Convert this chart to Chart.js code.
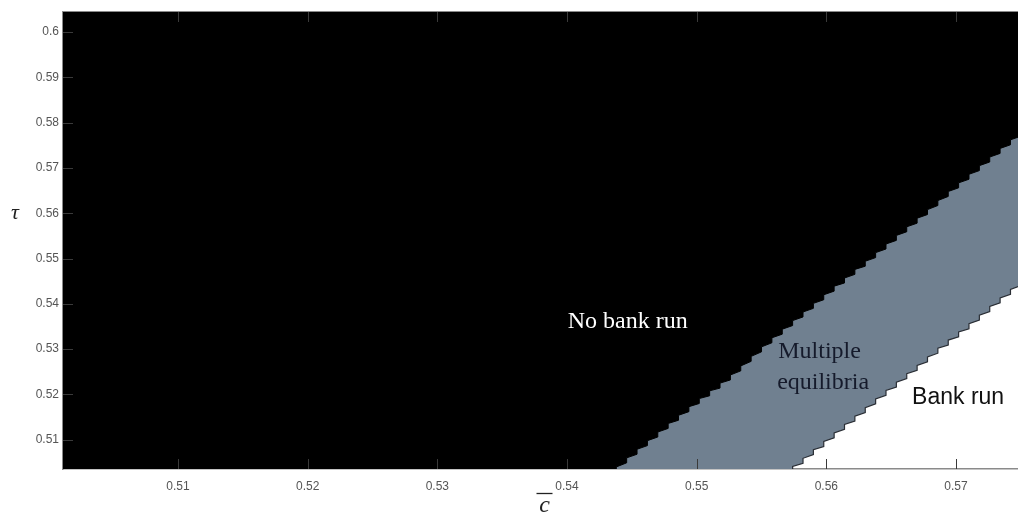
<!DOCTYPE html>
<html>
<head>
<meta charset="utf-8">
<script src="https://cdn.jsdelivr.net/npm/chart.js@4/dist/chart.umd.min.js"></script>
<style>
  html, body { margin: 0; padding: 0; background: #ffffff; }
  #wrap { width: 1018px; height: 520px; }
  canvas { display: block; }
</style>
</head>
<body>
<div id="wrap"><canvas id="regions" width="1018" height="520"></canvas></div>
<script>
// Tick positions and their printed labels
const xTicks = [0.51, 0.52, 0.53, 0.54, 0.55, 0.56, 0.57];
const xTickLabels = ['0.51', '0.52', '0.53', '0.54', '0.55', '0.56', '0.57'];
const yTicks = [0.51, 0.52, 0.53, 0.54, 0.55, 0.56, 0.57, 0.58, 0.59, 0.6];
const yTickLabels = ['0.51', '0.52', '0.53', '0.54', '0.55', '0.56', '0.57', '0.58', '0.59', '0.6'];

// Jagged upper edge of the multiple-equilibria band (above it: no bank run).
// Vertices of the edge polyline: each grid column has a tooth (low, high).
const noRunEdgeC = [0.5000,
  0.5430, 0.5430, 0.5438, 0.5438, 0.5446, 0.5446, 0.5454, 0.5454, 0.5462, 0.5462,
  0.5470, 0.5470, 0.5478, 0.5478, 0.5486, 0.5486, 0.5494, 0.5494, 0.5502, 0.5502,
  0.5510, 0.5510, 0.5518, 0.5518, 0.5526, 0.5526, 0.5534, 0.5534, 0.5542, 0.5542,
  0.5550, 0.5550, 0.5558, 0.5558, 0.5566, 0.5566, 0.5574, 0.5574, 0.5582, 0.5582,
  0.5590, 0.5590, 0.5598, 0.5598, 0.5606, 0.5606, 0.5614, 0.5614, 0.5622, 0.5622,
  0.5630, 0.5630, 0.5638, 0.5638, 0.5646, 0.5646, 0.5654, 0.5654, 0.5662, 0.5662,
  0.5670, 0.5670, 0.5678, 0.5678, 0.5686, 0.5686, 0.5694, 0.5694, 0.5702, 0.5702,
  0.5710, 0.5710, 0.5718, 0.5718, 0.5726, 0.5726, 0.5734, 0.5734, 0.5742, 0.5742,
  0.5750, 0.5750, 0.5758, 0.5758];
const noRunEdgeTau = [0.5000,
  0.5010, 0.5021, 0.5029, 0.5040, 0.5049, 0.5060, 0.5068, 0.5079, 0.5087, 0.5098,
  0.5106, 0.5117, 0.5125, 0.5136, 0.5143, 0.5154, 0.5162, 0.5173, 0.5180, 0.5191,
  0.5197, 0.5208, 0.5214, 0.5225, 0.5232, 0.5243, 0.5252, 0.5263, 0.5273, 0.5284,
  0.5294, 0.5305, 0.5314, 0.5325, 0.5333, 0.5344, 0.5352, 0.5363, 0.5371, 0.5382,
  0.5390, 0.5401, 0.5409, 0.5420, 0.5428, 0.5439, 0.5446, 0.5457, 0.5465, 0.5476,
  0.5483, 0.5494, 0.5502, 0.5513, 0.5521, 0.5532, 0.5540, 0.5551, 0.5559, 0.5570,
  0.5578, 0.5589, 0.5597, 0.5608, 0.5617, 0.5628, 0.5637, 0.5648, 0.5656, 0.5667,
  0.5675, 0.5686, 0.5694, 0.5705, 0.5713, 0.5724, 0.5732, 0.5743, 0.5751, 0.5762,
  0.5770, 0.5781, 0.5789, 0.5800];

// Jagged lower edge of the band (below it: bank run)
const runEdgeC = [0.5000,
  0.5558, 0.5558, 0.5566, 0.5566, 0.5574, 0.5574, 0.5582, 0.5582, 0.5590, 0.5590,
  0.5598, 0.5598, 0.5606, 0.5606, 0.5614, 0.5614, 0.5622, 0.5622, 0.5630, 0.5630,
  0.5638, 0.5638, 0.5646, 0.5646, 0.5654, 0.5654, 0.5662, 0.5662, 0.5670, 0.5670,
  0.5678, 0.5678, 0.5686, 0.5686, 0.5694, 0.5694, 0.5702, 0.5702, 0.5710, 0.5710,
  0.5718, 0.5718, 0.5726, 0.5726, 0.5734, 0.5734, 0.5742, 0.5742, 0.5750, 0.5750,
  0.5758, 0.5758];
const runEdgeTau = [0.5000,
  0.4992, 0.5003, 0.5011, 0.5022, 0.5030, 0.5041, 0.5048, 0.5059, 0.5067, 0.5078,
  0.5085, 0.5096, 0.5104, 0.5115, 0.5123, 0.5134, 0.5141, 0.5152, 0.5160, 0.5171,
  0.5179, 0.5190, 0.5198, 0.5209, 0.5216, 0.5227, 0.5235, 0.5246, 0.5253, 0.5264,
  0.5272, 0.5283, 0.5291, 0.5302, 0.5309, 0.5320, 0.5327, 0.5338, 0.5345, 0.5356,
  0.5364, 0.5375, 0.5383, 0.5394, 0.5402, 0.5413, 0.5421, 0.5432, 0.5440, 0.5451,
  0.5459, 0.5470];

// Axis ranges
const cRange = [0.50113, 0.57478];
const tauRange = [0.50354, 0.60441];

// Region names, placed at (c-bar, tau) anchors
const regionLabels = [
  { text: 'No bank run', c: 0.54468, tau: 0.53469, font: '24px "Liberation Serif", "Times New Roman", serif', color: '#ffffff' },
  { text: 'Multiple',    c: 0.55948, tau: 0.52800, font: '24px "Liberation Serif", "Times New Roman", serif', color: '#151a2b' },
  { text: 'equilibria',  c: 0.55975, tau: 0.52110, font: '24px "Liberation Serif", "Times New Roman", serif', color: '#151a2b' },
  { text: 'Bank run',    c: 0.57016, tau: 0.51780, font: '23px "Liberation Sans", Arial, sans-serif', color: '#111111' }
];

const toPoints = (xs, ys) => xs.map((x, i) => ({ x: x, y: ys[i] }));

const tickColor = '#3a3a3a';
const axisColor = '#8a8a8a';

// Inward tick marks, region names and axis symbols
const decorations = {
  id: 'decorations',
  afterDatasetsDraw(chart) {
    const { ctx, chartArea: a, scales } = chart;
    const len = 10;
    ctx.save();
    ctx.strokeStyle = tickColor;
    ctx.lineWidth = 1;
    xTicks.forEach(v => {
      const px = Math.round(scales.x.getPixelForValue(v)) + 0.5;
      ctx.beginPath();
      ctx.moveTo(px, a.bottom); ctx.lineTo(px, a.bottom - len);
      ctx.moveTo(px, a.top); ctx.lineTo(px, a.top + len);
      ctx.stroke();
    });
    yTicks.forEach(v => {
      const py = Math.round(scales.y.getPixelForValue(v)) + 0.5;
      ctx.beginPath();
      ctx.moveTo(a.left, py); ctx.lineTo(a.left + len, py);
      ctx.stroke();
    });
    ctx.restore();

    ctx.save();
    ctx.textAlign = 'center';
    ctx.textBaseline = 'alphabetic';
    regionLabels.forEach(l => {
      ctx.font = l.font;
      ctx.fillStyle = l.color;
      ctx.fillText(l.text, scales.x.getPixelForValue(l.c), scales.y.getPixelForValue(l.tau));
    });
    ctx.restore();
  },
  afterDraw(chart) {
    const { ctx, chartArea: a } = chart;
    ctx.save();
    ctx.fillStyle = '#222222';
    ctx.textAlign = 'center';
    ctx.textBaseline = 'middle';
    ctx.font = 'italic 22px "Liberation Serif", "Times New Roman", serif';
    ctx.fillText('τ', 15, (a.top + a.bottom) / 2 - 27);
    // c-bar under the horizontal axis
    const cx = (a.left + a.right) / 2 + 4;
    ctx.font = 'italic 24px "Liberation Serif", "Times New Roman", serif';
    ctx.textBaseline = 'alphabetic';
    ctx.fillText('c', cx, 512);
    ctx.strokeStyle = '#222222';
    ctx.lineWidth = 1.3;
    ctx.beginPath();
    ctx.moveTo(cx - 8, 493.5); ctx.lineTo(cx + 8, 493.5);
    ctx.stroke();
    ctx.restore();
  }
};

new Chart(document.getElementById('regions'), {
  type: 'line',
  data: {
    datasets: [
      {
        label: 'No bank run',
        data: toPoints(noRunEdgeC, noRunEdgeTau),
        fill: 'end',
        tension: 0,
        backgroundColor: '#000000',
        borderColor: '#000000',
        borderWidth: 1,
        pointRadius: 0
      },
      {
        label: 'Multiple equilibria',
        data: toPoints(runEdgeC, runEdgeTau),
        fill: 'end',
        tension: 0,
        backgroundColor: '#708090',
        borderColor: '#2a2e35',
        borderWidth: 1.2,
        pointRadius: 0
      }
    ]
  },
  options: {
    responsive: false,
    devicePixelRatio: 1,
    animation: false,
    layout: { padding: { top: 12, left: 0, right: 0, bottom: 0 } },
    plugins: {
      legend: { display: false },
      tooltip: { enabled: false }
    },
    scales: {
      x: {
        type: 'linear',
        position: 'bottom',
        min: cRange[0],
        max: cRange[1],
        afterBuildTicks: s => { s.ticks = xTicks.map(v => ({ value: v })); },
        afterFit: s => { s.height = 51; },
        ticks: {
          callback: (v, i) => xTickLabels[i],
          autoSkip: false,
          maxRotation: 0,
          padding: 10,
          color: '#555555',
          font: { family: '"Liberation Sans", Arial, sans-serif', size: 12 }
        },
        grid: { display: false, drawTicks: false },
        border: { display: true, color: axisColor, width: 1.5 }
      },
      xTop: {
        type: 'linear',
        axis: 'x',
        position: 'top',
        min: cRange[0],
        max: cRange[1],
        afterFit: s => { s.height = 0; },
        ticks: { display: false },
        grid: { display: false, drawTicks: false },
        border: { display: true, color: axisColor, width: 1.5 }
      },
      y: {
        type: 'linear',
        position: 'left',
        min: tauRange[0],
        max: tauRange[1],
        afterBuildTicks: s => { s.ticks = yTicks.map(v => ({ value: v })); },
        afterFit: s => { s.width = 63; },
        ticks: {
          callback: (v, i) => yTickLabels[i],
          autoSkip: false,
          padding: 4,
          color: '#555555',
          font: { family: '"Liberation Sans", Arial, sans-serif', size: 12 }
        },
        grid: { display: false, drawTicks: false },
        border: { display: true, color: axisColor, width: 1.5 }
      }
    }
  },
  plugins: [decorations]
});
</script>
</body>
</html>
